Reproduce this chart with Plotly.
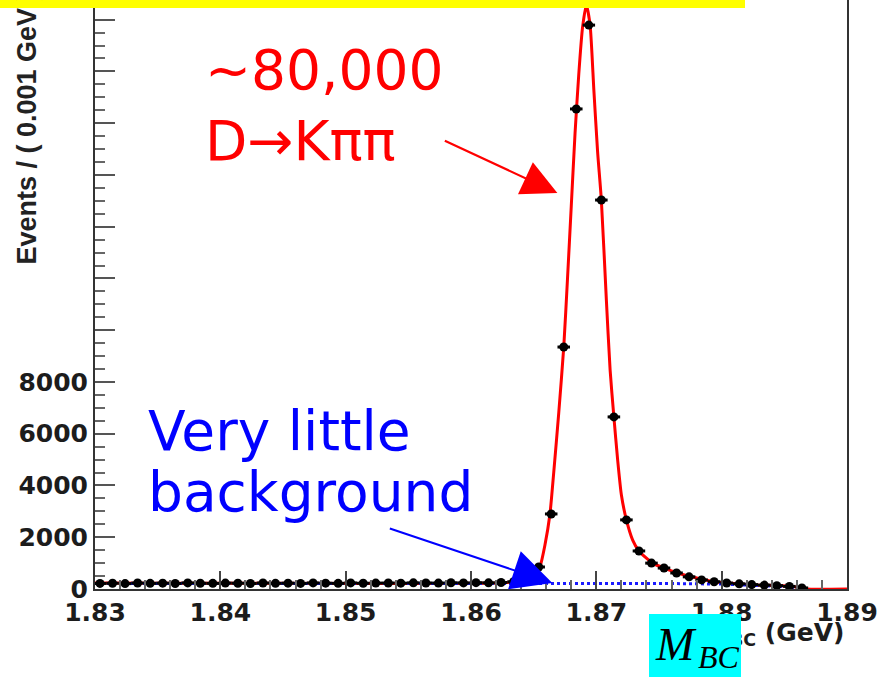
import numpy as np
import plotly.graph_objects as go

# ---------------- data ----------------
bin_centers = np.round(np.arange(1.8304, 1.8865, 0.001), 4)
events = [215, 222, 208, 230, 219, 226, 212, 235, 221, 218,
          229, 224, 213, 231, 220, 227, 216, 234, 225, 219,
          236, 222, 229, 231, 226, 238, 233, 229, 241, 236,
          244, 239, 251, 280, 380,
          850, 2900, 9350, 18550, 21790, 15030, 6650, 2670, 1470, 1000,
          810, 620, 470, 350, 280, 230, 200, 170, 150, 130, 100, 40]

fit_x = [1.8300, 1.8623, 1.8634, 1.8644, 1.8651, 1.8655, 1.8659, 1.8663, 1.8666,
         1.8670, 1.8674, 1.8677, 1.8680, 1.8683, 1.8686, 1.8689, 1.8692,
         1.8695, 1.8698, 1.8701, 1.8704, 1.8708, 1.8711, 1.8714, 1.8717,
         1.8720, 1.8724, 1.8729, 1.8734, 1.8745, 1.8754, 1.8765, 1.8773,
         1.8783, 1.8795, 1.8805, 1.8815, 1.8825, 1.8843, 1.8853, 1.8864,
         1.8868, 1.8900]
fit_y = [232, 232, 271, 348, 502, 850, 1700, 2900, 4500,
         6800, 9350, 12000, 14800, 17600, 19900, 21700, 22570,
         21800, 19300, 16900, 15030, 11170, 8460, 6650, 4990,
         3630, 2670, 1890, 1470, 1000, 810, 620, 500,
         390, 270, 230, 190, 155, 135, 115, 40,
         0, 0]

bkg_x = [1.8300, 1.8500, 1.8700, 1.8750, 1.8800, 1.8830, 1.8850, 1.8866]
bkg_y = [215, 220, 222, 215, 190, 150, 95, 0]

x_ticks = [1.83, 1.84, 1.85, 1.86, 1.87, 1.88, 1.89]
x_ticklabels = ["1.83", "1.84", "1.85", "1.86", "1.87", "1.88", "1.89"]
y_ticks = [0, 2000, 4000, 6000, 8000, 10000, 12000, 14000, 16000, 18000, 20000, 22000]
y_ticklabels = ["0", "2000", "4000", "6000", "8000", "", "", "", "", "", "", ""]

# ---------------- figure ----------------
W, H = 879, 677
L, R, T, B = 95, 32, 0, 88
PW, PH = W - L - R, H - T - B


def px(xp):
    return (xp - L) / PW


def py(yp):
    return (T + PH - yp) / PH


fig = go.Figure()

fig.add_trace(go.Scatter(
    x=fit_x, y=fit_y, mode="lines",
    line=dict(color="#ff0000", width=3, shape="spline", smoothing=0.6),
    hoverinfo="skip"))

fig.add_trace(go.Scatter(
    x=bkg_x, y=bkg_y, mode="lines",
    line=dict(color="#1a1aff", width=3, dash="dot"),
    hoverinfo="skip"))

fig.add_trace(go.Scatter(
    x=bin_centers, y=events, mode="markers",
    marker=dict(color="black", size=9, symbol="circle"),
    error_x=dict(type="constant", value=0.0005, color="black", thickness=3, width=0),
    hoverinfo="skip"))

axis_font = dict(family="DejaVu Sans", size=25, color="#1c1c1c", weight="bold")

fig.update_xaxes(
    range=[1.83, 1.89], tickvals=x_ticks, ticktext=x_ticklabels,
    ticks="inside", ticklen=18, tickwidth=2, tickcolor="#444",
    minor=dict(dtick=0.002, ticks="inside", ticklen=9, tickwidth=1.5, tickcolor="#666"),
    showline=True, linecolor="#333", linewidth=2, mirror=False,
    showgrid=False, zeroline=False, tickfont=axis_font)

fig.update_yaxes(
    range=[0, 22760], tickvals=y_ticks, ticktext=y_ticklabels,
    ticks="inside", ticklen=20, tickwidth=2, tickcolor="#555",
    minor=dict(dtick=500, ticks="inside", ticklen=10, tickwidth=1.5, tickcolor="#666"),
    showline=True, linecolor="#333", linewidth=2, mirror=True,
    showgrid=False, zeroline=False, tickfont=axis_font)

annotations = [
    # y-axis title (cut by the top edge like the original)
    dict(text="Events / ( 0.001 GeV )", textangle=-90, xref="paper", yref="paper",
         x=px(27), y=py(267), xanchor="center", yanchor="bottom", showarrow=False,
         font=dict(family="Liberation Sans", size=27, color="#222", weight="bold")),
    # x-axis title
    dict(text="M<sub>BC</sub> (GeV)", xref="paper", yref="paper",
         x=px(846), y=py(634), xanchor="right", yanchor="middle", showarrow=False,
         font=dict(family="DejaVu Sans", size=25, color="#1c1c1c", weight="bold")),
    # red text
    dict(text="~80,000", xref="paper", yref="paper", x=px(203), y=py(70),
         xanchor="left", yanchor="middle", showarrow=False,
         font=dict(family="DejaVu Sans", size=55, color="#ff0000")),
    dict(text="D→Kππ", xref="paper", yref="paper", x=px(203), y=py(141),
         xanchor="left", yanchor="middle", showarrow=False,
         font=dict(family="DejaVu Sans", size=55, color="#ff0000")),
    # blue text
    dict(text="Very little", xref="paper", yref="paper", x=px(146), y=py(431),
         xanchor="left", yanchor="middle", showarrow=False,
         font=dict(family="DejaVu Sans", size=55, color="#0000ff")),
    dict(text="background", xref="paper", yref="paper", x=px(146), y=py(492),
         xanchor="left", yanchor="middle", showarrow=False,
         font=dict(family="DejaVu Sans", size=55, color="#0000ff")),
    # arrows
    dict(text="", x=1.86689, y=15300, xref="x", yref="y", showarrow=True,
         ax=-114, ay=-53, axref="pixel", ayref="pixel",
         arrowhead=2, arrowsize=3.2, arrowwidth=2.2, arrowcolor="#ff0000", standoff=0),
    dict(text="", x=1.86649, y=230, xref="x", yref="y", showarrow=True,
         ax=-164, ay=-55, axref="pixel", ayref="pixel",
         arrowhead=2, arrowsize=4, arrowwidth=2, arrowcolor="#0000ff", standoff=0),
    # cyan box (drawn as an annotation so it covers the axis title text)
    dict(text=" ", xref="paper", yref="paper", x=px(649), y=py(614),
         xanchor="left", yanchor="top", showarrow=False, width=92, height=63,
         bgcolor="#00ffff", borderpad=0, borderwidth=0,
         font=dict(family="Liberation Serif", size=10, color="#00ffff")),
    # M_BC label in cyan box
    dict(text="<i>M</i>", xref="paper", yref="paper", x=px(653), y=py(644),
         xanchor="left", yanchor="middle", showarrow=False,
         font=dict(family="Liberation Serif", size=46, color="black")),
    dict(text="<i>BC</i>", xref="paper", yref="paper", x=px(696), y=py(657),
         xanchor="left", yanchor="middle", showarrow=False,
         font=dict(family="Liberation Serif", size=32, color="black")),
]

shapes = [
    dict(type="rect", xref="paper", yref="paper", x0=px(0), x1=px(745),
         y0=py(8), y1=py(-2), fillcolor="#ffff00", line=dict(width=0), layer="above"),
]

fig.update_layout(
    width=W, height=H, margin=dict(l=L, r=R, t=T, b=B),
    paper_bgcolor="white", plot_bgcolor="white", showlegend=False,
    annotations=annotations, shapes=shapes)

fig.write_html("out.html", config={"displayModeBar": False})
